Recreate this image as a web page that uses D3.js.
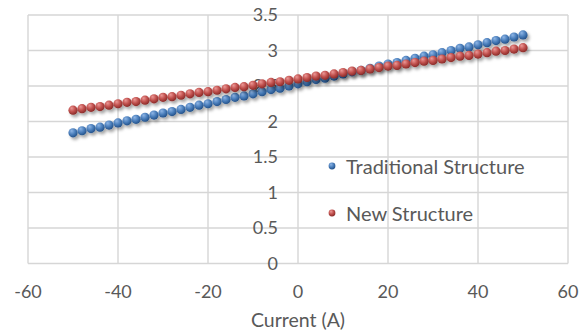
<!DOCTYPE html>
<html>
<head>
<meta charset="utf-8">
<script src="https://cdn.jsdelivr.net/npm/d3@7/dist/d3.min.js"></script>
<style>
  html, body { margin: 0; padding: 0; background: #fff; }
  svg { display: block; }
  text { font-family: Lato, "Open Sans", sans-serif; fill: #595959; }
</style>
</head>
<body>
<svg id="chart" width="583" height="333"></svg>
<script>
// Current sweep (A)
const current = [-50, -48, -46, -44, -42, -40, -38, -36, -34, -32, -30, -28, -26, -24, -22, -20, -18, -16, -14, -12, -10, -8, -6, -4, -2,
  0, 2, 4, 6, 8, 10, 12, 14, 16, 18, 20, 22, 24, 26, 28, 30, 32, 34, 36, 38, 40, 42, 44, 46, 48, 50];

const traditional = [1.84, 1.87, 1.90, 1.92, 1.95, 1.98, 2.01, 2.03, 2.06, 2.09, 2.12, 2.14, 2.17, 2.20, 2.23, 2.25, 2.28, 2.31, 2.34, 2.36, 2.39, 2.42, 2.45, 2.47, 2.50,
  2.53, 2.56, 2.59, 2.61, 2.64, 2.67, 2.70, 2.72, 2.75, 2.78, 2.81, 2.83, 2.86, 2.89, 2.92, 2.94, 2.97, 3.00, 3.03, 3.05, 3.08, 3.11, 3.14, 3.16, 3.19, 3.22];

const newStructure = [2.16, 2.18, 2.20, 2.21, 2.23, 2.25, 2.27, 2.28, 2.30, 2.32, 2.34, 2.35, 2.37, 2.39, 2.41, 2.42, 2.44, 2.46, 2.48, 2.49, 2.51, 2.53, 2.55, 2.56, 2.58,
  2.60, 2.62, 2.64, 2.65, 2.67, 2.69, 2.71, 2.72, 2.74, 2.76, 2.78, 2.79, 2.81, 2.83, 2.85, 2.86, 2.88, 2.90, 2.92, 2.93, 2.95, 2.97, 2.99, 3.00, 3.02, 3.04];

const xTicks = [-60, -40, -20, 0, 20, 40, 60];
const yTicks = [0, 0.5, 1, 1.5, 2, 2.5, 3, 3.5];

const series = [
  { name: "Traditional Structure", values: traditional, light: "#8fb6e6", base: "#4a7ebb", dark: "#24528a", id: "gBlue" },
  { name: "New Structure", values: newStructure, light: "#ec9896", base: "#c0504d", dark: "#8a2b29", id: "gRed" }
];

const svg = d3.select("#chart");
const x = d3.scaleLinear().domain([-60, 60]).range([28, 568]);
const y = d3.scaleLinear().domain([0, 3.5]).range([263.5, 15]);

const defs = svg.append("defs");
series.forEach(s => {
  const g = defs.append("radialGradient").attr("id", s.id)
    .attr("cx", "40%").attr("cy", "35%").attr("r", "65%").attr("fx", "35%").attr("fy", "28%");
  g.append("stop").attr("offset", "0%").attr("stop-color", s.light);
  g.append("stop").attr("offset", "55%").attr("stop-color", s.base);
  g.append("stop").attr("offset", "100%").attr("stop-color", s.dark);
});
const shadow = defs.append("filter").attr("id", "shadow")
  .attr("x", "-50%").attr("y", "-50%").attr("width", "220%").attr("height", "220%");
shadow.append("feDropShadow").attr("dx", 2).attr("dy", 2.5).attr("stdDeviation", 1.6)
  .attr("flood-color", "#000").attr("flood-opacity", 0.35);

// Gridlines
const grid = svg.append("g").attr("stroke", "#d6d6d6").attr("stroke-width", 1.4);
grid.selectAll(".gx").data(xTicks).join("line")
  .attr("x1", d => x(d)).attr("x2", d => x(d))
  .attr("y1", y(3.5)).attr("y2", y(0));
grid.selectAll(".gy").data(yTicks).join("line")
  .attr("x1", x(-60)).attr("x2", x(60))
  .attr("y1", d => y(d)).attr("y2", d => y(d));

// Value axis labels sit next to the vertical axis at x = 0
svg.append("g").selectAll("text").data(yTicks).join("text")
  .attr("x", x(0) - 20).attr("y", d => y(d)).attr("dy", "0.36em")
  .attr("text-anchor", "end").attr("font-size", 18)
  .text(d => d3.format("~g")(d));

// Category axis labels
svg.append("g").selectAll("text").data(xTicks).join("text")
  .attr("x", d => x(d)).attr("y", 298)
  .attr("text-anchor", "middle").attr("font-size", 18)
  .text(d => d);

svg.append("text").attr("x", x(0)).attr("y", 327)
  .attr("text-anchor", "middle").attr("font-size", 19.5).text("Current (A)");

// Data points
series.forEach(s => {
  svg.append("g").attr("filter", "url(#shadow)")
    .selectAll("circle").data(s.values).join("circle")
    .attr("cx", (d, i) => x(current[i]))
    .attr("cy", d => y(d))
    .attr("r", 4.6)
    .attr("fill", `url(#${s.id})`);
});

// Legend
const legend = svg.append("g");
series.forEach((s, i) => {
  const ly = 166 + i * 47;
  legend.append("circle").attr("cx", 332).attr("cy", ly).attr("r", 3.4)
    .attr("fill", `url(#${s.id})`);
  legend.append("text").attr("x", 346).attr("y", ly + 8)
    .attr("font-size", 20).text(s.name);
});
</script>
</body>
</html>
